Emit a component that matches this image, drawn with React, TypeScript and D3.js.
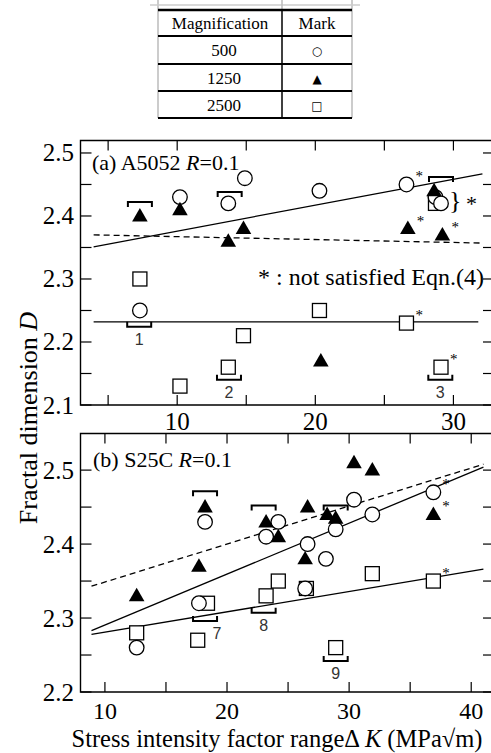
import * as d3 from "d3";
import React from "react";

// table
const magnifications = ["500", "1250", "2500"];
const markGlyphs = ["○", "▲", "□"];

// (a) A5052 R=0.1 : [ΔK, D]
const a500: [number, number][] = [[7.3, 2.25], [10.2, 2.43], [13.7, 2.42], [14.9, 2.46], [20.3, 2.44], [26.6, 2.45], [28.7, 2.43], [29.1, 2.42]];
const a1250: [number, number][] = [[7.3, 2.4], [10.2, 2.41], [13.7, 2.36], [14.8, 2.38], [20.4, 2.17], [26.7, 2.38], [28.6, 2.44], [29.2, 2.37]];
const a2500: [number, number][] = [[7.3, 2.3], [10.2, 2.13], [13.7, 2.16], [14.8, 2.21], [20.3, 2.25], [26.6, 2.23], [29.1, 2.16], [28.7, 2.42]];
const aStars500 = [5];
const aStars1250 = [5, 7];
const aStars2500 = [5, 6];
const aFit500: [number, number][] = [[3.95, 2.351], [32.1, 2.467]];
const aFit1250: [number, number][] = [[3.95, 2.37], [32.1, 2.357]];
const aFit2500: [number, number][] = [[3.95, 2.232], [31.8, 2.232]];

// (b) S25C R=0.1
const b500: [number, number][] = [[12.6, 2.26], [17.7, 2.32], [18.2, 2.43], [23.2, 2.41], [24.2, 2.43], [26.4, 2.34], [26.6, 2.4], [28.1, 2.38], [28.9, 2.42], [30.4, 2.46], [31.9, 2.44], [36.9, 2.47]];
const b1250: [number, number][] = [[12.6, 2.33], [17.7, 2.37], [18.2, 2.45], [23.2, 2.43], [24.2, 2.41], [26.4, 2.38], [26.6, 2.45], [28.2, 2.44], [28.9, 2.435], [30.4, 2.51], [31.9, 2.5], [36.9, 2.44]];
const b2500: [number, number][] = [[12.6, 2.28], [17.6, 2.27], [18.4, 2.32], [23.2, 2.33], [24.2, 2.35], [26.5, 2.34], [28.9, 2.26], [31.9, 2.36], [36.9, 2.35]];
const bStars500 = [11];
const bStars1250 = [11];
const bStars2500 = [8];
const bFit500: [number, number][] = [[8.9, 2.283], [41.0, 2.504]];
const bFit1250: [number, number][] = [[8.9, 2.343], [41.0, 2.508]];
const bFit2500: [number, number][] = [[8.9, 2.278], [41.0, 2.366]];

// brackets: [ΔK, D] above marks, [ΔK, D, label] below marks
const aBracketsOver: [number, number][] = [[7.3, 2.422], [13.8, 2.438], [29.1, 2.462]];
const aBracketsUnder: [number, number, string][] = [[7.25, 2.224, "1"], [13.75, 2.14, "2"], [29.05, 2.14, "3"]];
const bBracketsOver: [number, number][] = [[18.2, 2.4715], [23.0, 2.452], [28.9, 2.452]];
const bBracketsUnder: [number, number, string][] = [[18.2, 2.296, "7"], [23.0, 2.307, "8"], [28.9, 2.242, "9"]];

const serif = "'Liberation Serif', 'Times New Roman', Times, serif";
const sans = "'Liberation Sans', Arial, sans-serif";

interface PanelProps {
  top: number;
  bottom: number;
  labelBaseline: number;
  labelSize: number;
  xDomain: [number, number];
  yDomain: [number, number];
  xTicks: number[];
  xLabels: number[];
  yTicks: number[];
  yLabels: number[];
  s500: [number, number][];
  s1250: [number, number][];
  s2500: [number, number][];
  st500: number[];
  st1250: number[];
  st2500: number[];
  fit500: [number, number][];
  fit1250: [number, number][];
  fit2500: [number, number][];
  over: [number, number][];
  under: [number, number, string][];
  children?: React.ReactNode;
}

const Panel: React.FC<PanelProps> = (p) => {
  const left = 80.5;
  const right = 491;
  const x = d3.scaleLinear().domain(p.xDomain).range([left, right]);
  const y = d3.scaleLinear().domain(p.yDomain).range([p.bottom, p.top]);
  const line = d3
    .line<[number, number]>()
    .x((d) => x(d[0]))
    .y((d) => y(d[1]));
  const tri = d3.symbol(d3.symbolTriangle, 105)();
  const star = (px: number, py: number, key: string) => (
    <text key={key} x={px + 9} y={py - 3} fontSize={15} fill="#000">
      *
    </text>
  );
  return (
    <g>
      <path d={`M${right},${p.top}H${left}V${p.bottom}H${right}`} fill="none" stroke="#000" strokeWidth={1.4} />
      {p.xTicks.map((t) => (
        <g key={"x" + t}>
          <line x1={x(t)} x2={x(t)} y1={p.bottom} y2={p.bottom - 10} stroke="#000" strokeWidth={1.2} />
          <line x1={x(t)} x2={x(t)} y1={p.top} y2={p.top + 10} stroke="#000" strokeWidth={1.2} />
        </g>
      ))}
      {p.xLabels.map((t) => (
        <text key={"xl" + t} x={x(t)} y={p.labelBaseline} textAnchor="middle" fontSize={p.labelSize}>
          {t}
        </text>
      ))}
      {p.yTicks.map((t) => (
        <g key={"y" + t}>
          <line x1={left} x2={left + 11} y1={y(t)} y2={y(t)} stroke="#000" strokeWidth={1.2} />
          <line x1={right} x2={right - 8} y1={y(t)} y2={y(t)} stroke="#000" strokeWidth={1.2} />
        </g>
      ))}
      {p.yLabels.map((t) => (
        <text key={"yl" + t} x={74} y={y(t) + 8.5} textAnchor="end" fontSize={25}>
          {t.toFixed(1)}
        </text>
      ))}
      <path d={line(p.fit500) ?? ""} fill="none" stroke="#000" strokeWidth={1.3} />
      <path d={line(p.fit1250) ?? ""} fill="none" stroke="#000" strokeWidth={1.3} strokeDasharray="6,4" />
      <path d={line(p.fit2500) ?? ""} fill="none" stroke="#000" strokeWidth={1.3} />
      {p.over.map(([k, d], i) => (
        <path
          key={"bo" + i}
          d={`M${x(k) - 12},${y(d) + 5}V${y(d)}H${x(k) + 12}V${y(d) + 5}`}
          fill="none"
          stroke="#000"
          strokeWidth={2}
        />
      ))}
      {p.s2500.map(([k, d], i) => (
        <rect key={"s" + i} x={x(k) - 7} y={y(d) - 7} width={14} height={14} fill="#fff" stroke="#000" strokeWidth={1.3} />
      ))}
      {p.s500.map(([k, d], i) => (
        <circle key={"c" + i} cx={x(k)} cy={y(d)} r={7.3} fill="#fff" stroke="#000" strokeWidth={1.3} />
      ))}
      {p.s1250.map(([k, d], i) => (
        <path key={"t" + i} d={tri ?? ""} transform={`translate(${x(k)},${y(d) + 1})`} fill="#000" />
      ))}
      {p.st500.map((i) => star(x(p.s500[i][0]), y(p.s500[i][1]), "sc" + i))}
      {p.st1250.map((i) => star(x(p.s1250[i][0]), y(p.s1250[i][1]), "st" + i))}
      {p.st2500.map((i) => star(x(p.s2500[i][0]), y(p.s2500[i][1]), "ss" + i))}
      {p.under.map(([k, d, lab], i) => (
        <g key={"bu" + i}>
          <path
            d={`M${x(k) - 12},${y(d) - 5}V${y(d)}H${x(k) + 12}V${y(d) - 5}`}
            fill="none"
            stroke="#000"
            strokeWidth={2}
          />
          <text
            x={lab === "7" ? x(k) + 12 : x(k)}
            y={y(d) + 18}
            textAnchor="middle"
            fontSize={16}
            style={{ fontFamily: sans }}
            fill="#333"
          >
            {lab}
          </text>
        </g>
      ))}
      {p.children}
    </g>
  );
};

const App: React.FC = () => {
  const rowLines = [10, 36, 64, 91, 118];
  return (
    <svg
      width={491}
      height={753}
      style={{ position: "absolute", left: 0, top: 0, background: "#fff", fontFamily: serif }}
    >
      <rect width={491} height={753} fill="#fff" />
      {/* table */}
      <g>
        <line x1={158} x2={158} y1={0} y2={118} stroke="#bbb" strokeWidth={1.5} />
        <line x1={352} x2={352} y1={0} y2={118} stroke="#bbb" strokeWidth={1.5} />
        <line x1={150} x2={360} y1={5} y2={5} stroke="#ccc" strokeWidth={1.5} />
        <line x1={282} x2={282} y1={10} y2={118} stroke="#000" strokeWidth={1.5} />
        <line x1={282} x2={282} y1={0} y2={10} stroke="#bbb" strokeWidth={1.5} />
        {rowLines.map((r, i) => (
          <line key={r} x1={158} x2={352} y1={r} y2={r} stroke="#000" strokeWidth={i === 0 ? 2.5 : 2} />
        ))}
        <text x={220} y={29} textAnchor="middle" fontSize={17}>
          Magnification
        </text>
        <text x={317} y={29} textAnchor="middle" fontSize={17}>
          Mark
        </text>
        {magnifications.map((m, i) => (
          <g key={m}>
            <text x={224} y={rowLines[i + 1] + 20} textAnchor="middle" fontSize={17}>
              {m}
            </text>
            <text
              x={317}
              y={rowLines[i + 1] + 19}
              textAnchor="middle"
              fontSize={12}
              style={{ fontFamily: "'DejaVu Sans', sans-serif" }}
            >
              {markGlyphs[i]}
            </text>
          </g>
        ))}
      </g>

      <Panel
        top={140.5}
        bottom={405}
        labelBaseline={430}
        labelSize={25}
        xDomain={[3, 32.72]}
        yDomain={[2.1, 2.5198]}
        xTicks={[5, 10, 15, 20, 25, 30]}
        xLabels={[10, 20, 30]}
        yTicks={d3.range(2.1, 2.5001, 0.05)}
        yLabels={[2.1, 2.2, 2.3, 2.4, 2.5]}
        s500={a500}
        s1250={a1250}
        s2500={a2500}
        st500={aStars500}
        st1250={aStars1250}
        st2500={aStars2500}
        fit500={aFit500}
        fit1250={aFit1250}
        fit2500={aFit2500}
        over={aBracketsOver}
        under={aBracketsUnder}
      >
        <text x={92} y={170} fontSize={22}>
          (a) A5052 <tspan fontStyle="italic">R</tspan>=0.1
        </text>
        <text x={258} y={285} fontSize={24}>
          * : not satisfied Eqn.(4)
        </text>
        <text x={449} y={209} fontSize={26}>
          {"}"}
        </text>
        <text x={466} y={211} fontSize={22}>
          *
        </text>
      </Panel>

      <Panel
        top={433.5}
        bottom={692}
        labelBaseline={719}
        labelSize={24}
        xDomain={[8, 41.62]}
        yDomain={[2.2, 2.5495]}
        xTicks={[10, 15, 20, 25, 30, 35, 40]}
        xLabels={[10, 20, 30, 40]}
        yTicks={d3.range(2.2, 2.5001, 0.05)}
        yLabels={[2.2, 2.3, 2.4, 2.5]}
        s500={b500}
        s1250={b1250}
        s2500={b2500}
        st500={bStars500}
        st1250={bStars1250}
        st2500={bStars2500}
        fit500={bFit500}
        fit1250={bFit1250}
        fit2500={bFit2500}
        over={bBracketsOver}
        under={bBracketsUnder}
      >
        <text x={93} y={467} fontSize={22}>
          (b) S25C <tspan fontStyle="italic">R</tspan>=0.1
        </text>
      </Panel>

      <text transform="translate(37,418) rotate(-90)" textAnchor="middle" fontSize={26}>
        Fractal dimension <tspan fontStyle="italic">D</tspan>
      </text>
      <text x={277} y={747} textAnchor="middle" fontSize={24.5}>
        Stress intensity factor rangeΔ <tspan fontStyle="italic">K</tspan> (MPa√m)
      </text>
    </svg>
  );
};

export default App;
